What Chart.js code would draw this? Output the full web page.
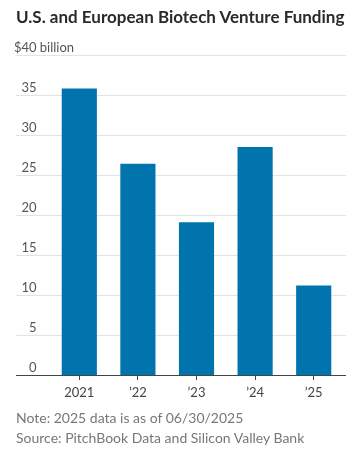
<!DOCTYPE html>
<html>
<head>
<meta charset="utf-8">
<script src="https://cdn.jsdelivr.net/npm/chart.js@4"></script>
<style>
  html, body { margin: 0; padding: 0; background: #fff; }
  #wrap { position: relative; width: 360px; height: 462px; overflow: hidden; }
  #c { position: absolute; left: 0; top: 0; }
  .t { position: absolute; left: 16px; white-space: nowrap; font-family: Lato, sans-serif; }
  #title { top: 6px; font-size: 17px; font-weight: 700; color: #2a2a2a; }
  #note { top: 409px; font-size: 14px; color: #777; }
  #src { top: 429px; font-size: 14px; color: #777; }
</style>
</head>
<body>
<div id="wrap">
  <canvas id="c" width="360" height="462"></canvas>
  <div class="t" id="title">U.S. and European Biotech Venture Funding</div>
  <div class="t" id="note">Note: 2025 data is as of 06/30/2025</div>
  <div class="t" id="src">Source: PitchBook Data and Silicon Valley Bank</div>
</div>
<script>
const categories = ['2021', '\u201922', '\u201923', '\u201924', '\u201925'];
const funding = [35.8, 26.4, 19.1, 28.5, 11.2];
const yTicks = [0, 5, 10, 15, 20, 25, 30, 35, 40];
const yTickLabels = ['0', '5', '10', '15', '20', '25', '30', '35', '$40'];
const yUnit = ' billion';

const FONT = 'Lato, sans-serif';

const gridPlugin = {
  id: 'wsjGrid',
  beforeDatasetsDraw(chart) {
    const ctx = chart.ctx;
    const y = chart.scales.y;
    const L = 16, R = 346, LABEL_X = 36.5;
    ctx.save();
    ctx.font = '13px ' + FONT;
    ctx.fillStyle = '#555';
    ctx.textBaseline = 'alphabetic';
    yTicks.forEach((v, i) => {
      const py = Math.round(y.getPixelForValue(v)) + 0.5;
      if (v !== 0) {
        ctx.strokeStyle = '#e3e3e3';
        ctx.lineWidth = 1;
        ctx.beginPath();
        ctx.moveTo(L, py);
        ctx.lineTo(R, py);
        ctx.stroke();
      }
      ctx.textAlign = 'right';
      ctx.fillText(yTickLabels[i], LABEL_X, py - 4);
      if (i === yTicks.length - 1) {
        ctx.textAlign = 'left';
        ctx.fillText(yUnit, LABEL_X, py - 4);
      }
    });
    ctx.restore();
  },
  afterDatasetsDraw(chart) {
    const ctx = chart.ctx;
    const y = chart.scales.y;
    const py = Math.round(y.getPixelForValue(0)) + 0.5;
    ctx.save();
    ctx.strokeStyle = '#444';
    ctx.lineWidth = 1;
    ctx.beginPath();
    ctx.moveTo(16, py);
    ctx.lineTo(346, py);
    ctx.stroke();
    ctx.restore();
  }
};

new Chart(document.getElementById('c'), {
  type: 'bar',
  data: {
    labels: categories,
    datasets: [{
      data: funding,
      backgroundColor: '#0274ad',
      borderWidth: 0,
      barPercentage: 0.6,
      categoryPercentage: 1.0
    }]
  },
  options: {
    responsive: false,
    animation: false,
    events: [],
    layout: { padding: { left: 50, right: 17, top: 55, bottom: 63 } },
    plugins: { legend: { display: false }, tooltip: { enabled: false }, title: { display: false } },
    scales: {
      y: {
        display: false,
        min: 0, max: 40
      },
      x: {
        afterFit(scale) { scale.height = 24; },
        border: { display: false },
        grid: { display: true, drawOnChartArea: false, offset: false, tickLength: 5, color: '#444', tickColor: '#444' },
        ticks: { color: '#444', font: { family: FONT, size: 13 }, padding: 5, maxRotation: 0 }
      }
    }
  },
  plugins: [gridPlugin]
});
</script>
</body>
</html>
